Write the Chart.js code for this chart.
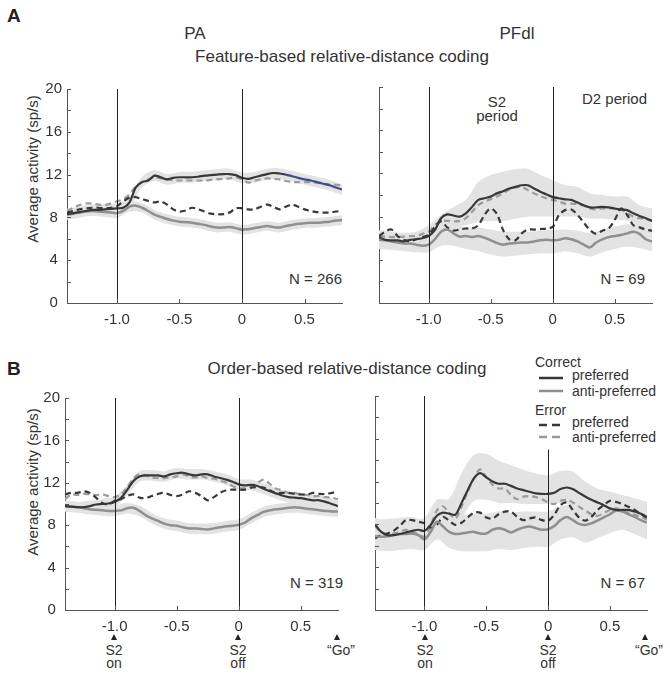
<!DOCTYPE html>
<html>
<head>
<meta charset="utf-8">
<script src="https://cdn.jsdelivr.net/npm/chart.js@4.4.1/dist/chart.umd.min.js"></script>
<style>
  body { margin: 0; background: #fff; width: 670px; height: 675px; position: relative; overflow: hidden;
         font-family: "Liberation Sans", Arial, sans-serif; color: #333; }
  .t { position: absolute; white-space: nowrap; line-height: 1; }
  .c { transform: translateX(-50%); text-align: center; }
  .r { transform: translateX(-100%); }
  .panel { position: absolute; }
  .tri { position: absolute; width: 0; height: 0; border-left: 3.5px solid transparent;
         border-right: 3.5px solid transparent; border-bottom: 6px solid #222; transform: translateX(-50%); }
  .ev { position: absolute; transform: translateX(-50%); text-align: center; font-size: 14px; line-height: 13px; }
</style>
</head>
<body>
<div class="t" style="left:7px;top:6px;font-size:19px;font-weight:bold;color:#222">A</div>
<div class="t" style="left:7px;top:359px;font-size:19px;font-weight:bold;color:#222">B</div>
<div class="t c" style="left:195px;top:25px;font-size:17px">PA</div>
<div class="t c" style="left:517px;top:25px;font-size:17px">PFdl</div>
<div class="t c" style="left:342px;top:48px;font-size:17px">Feature-based relative-distance coding</div>
<div class="t c" style="left:347px;top:360px;font-size:17px">Order-based relative-distance coding</div>
<div class="t" style="left:32px;top:169px;font-size:15px;transform:translate(-50%,-50%) rotate(-90deg)">Average activity (sp/s)</div>
<div class="t" style="left:32px;top:482px;font-size:15px;transform:translate(-50%,-50%) rotate(-90deg)">Average activity (sp/s)</div>
<div class="t r" style="left:342px;top:271px;font-size:15px">N = 266</div>
<div class="t r" style="left:645px;top:271px;font-size:15px">N = 69</div>
<div class="t r" style="left:343px;top:575px;font-size:15px">N = 319</div>
<div class="t r" style="left:645px;top:575px;font-size:15px">N = 67</div>
<div class="t c" style="left:497px;top:95px;font-size:15px;line-height:14px">S2<br>period</div>
<div class="t" style="left:582px;top:91px;font-size:15px">D2 period</div>

<div class="t" style="left:535px;top:355px;font-size:14px">Correct</div>
<div class="t" style="left:572px;top:368px;font-size:14px">preferred</div>
<div class="t" style="left:572px;top:384px;font-size:14px">anti-preferred</div>
<div class="t" style="left:535px;top:403px;font-size:14px">Error</div>
<div class="t" style="left:572px;top:415px;font-size:14px">preferred</div>
<div class="t" style="left:572px;top:430px;font-size:14px">anti-preferred</div>
<svg style="position:absolute;left:537px;top:370px" width="30" height="75">
  <line x1="2" y1="8" x2="26" y2="8" stroke="#383838" stroke-width="2.5"/>
  <line x1="2" y1="21" x2="26" y2="21" stroke="#8f8f8f" stroke-width="2.5"/>
  <line x1="2" y1="55" x2="26" y2="55" stroke="#383838" stroke-width="2.5" stroke-dasharray="8,5"/>
  <line x1="2" y1="67" x2="26" y2="67" stroke="#9a9a9a" stroke-width="2.5" stroke-dasharray="8,5"/>
</svg>

<div class="tri" style="left:114px;top:634px"></div>
<div class="ev" style="left:114px;top:644px">S2<br>on</div>
<div class="tri" style="left:238px;top:634px"></div>
<div class="ev" style="left:238px;top:644px">S2<br>off</div>
<div class="tri" style="left:337px;top:634px"></div>
<div class="ev" style="left:341px;top:644px">“Go”</div>
<div class="tri" style="left:425px;top:634px"></div>
<div class="ev" style="left:425px;top:644px">S2<br>on</div>
<div class="tri" style="left:548px;top:634px"></div>
<div class="ev" style="left:548px;top:644px">S2<br>off</div>
<div class="tri" style="left:645px;top:634px"></div>
<div class="ev" style="left:649px;top:644px">“Go”</div>

<script>
// time from S2 onset alignment (s)
const time = [-1.4,-1.35,-1.3,-1.25,-1.2,-1.15,-1.1,-1.05,-1.0,-0.95,-0.9,-0.85,-0.8,-0.75,-0.7,-0.65,-0.6,-0.55,-0.5,-0.45,-0.4,-0.35,-0.3,-0.25,-0.2,-0.15,-0.1,-0.05,0,0.05,0.1,0.15,0.2,0.25,0.3,0.35,0.4,0.45,0.5,0.55,0.6,0.65,0.7,0.75,0.8];
const bandTime = [-1.4,-1.3,-1.2,-1.1,-1.0,-0.9,-0.8,-0.7,-0.6,-0.5,-0.4,-0.3,-0.2,-0.1,0,0.1,0.2,0.3,0.4,0.5,0.6,0.7,0.8];
const xTicks = [-1.0, -0.5, 0, 0.5];

// A, PA
const paCorrPref = [8.3,8.4,8.5,8.6,8.7,8.7,8.75,8.8,8.85,8.9,9.4,10.8,11.3,11.45,11.9,11.75,11.55,11.7,11.75,11.75,11.75,11.8,11.9,11.95,12.0,12.05,12.05,11.95,11.7,11.6,11.75,11.9,12.05,12.15,12.1,12.0,11.85,11.7,11.55,11.45,11.3,11.15,11.0,10.8,10.6];
const paCorrAnti = [8.25,8.35,8.45,8.55,8.6,8.55,8.5,8.45,8.4,8.6,9.0,9.1,8.9,8.6,8.25,8.05,7.85,7.7,7.6,7.55,7.5,7.4,7.3,7.15,7.05,7.05,7.1,7.0,6.85,6.9,7.0,7.1,7.2,7.1,7.05,7.2,7.3,7.4,7.45,7.5,7.5,7.55,7.6,7.7,7.75];
const paErrPref = [8.45,8.6,8.75,8.85,8.9,8.9,8.85,8.9,9.05,9.5,9.85,9.9,9.7,9.55,9.4,9.5,9.2,8.75,8.55,8.65,8.9,8.75,8.55,8.35,8.3,8.3,8.45,8.85,8.85,8.75,8.75,9.0,9.2,9.0,8.75,9.0,9.2,9.0,8.75,8.6,8.5,8.45,8.45,8.55,8.6];
const paErrAnti = [8.6,8.9,9.15,9.3,9.3,9.2,9.15,9.3,9.5,9.7,10.15,10.9,11.3,11.55,11.75,11.65,11.55,11.5,11.45,11.45,11.45,11.45,11.45,11.5,11.55,11.6,11.65,11.75,11.55,11.25,11.45,11.55,11.65,11.6,11.55,11.4,11.3,11.3,11.3,11.3,11.25,11.15,11.1,11.05,11.0];
const paPrefHi = [8.8,9.0,9.2,9.25,9.35,9.9,11.8,12.4,12.05,12.25,12.25,12.4,12.5,12.55,12.2,12.25,12.55,12.6,12.35,12.05,11.8,11.5,11.1];
const paPrefLo = [7.8,8.0,8.2,8.25,8.35,8.9,10.8,11.4,11.05,11.25,11.25,11.4,11.5,11.55,11.2,11.25,11.55,11.6,11.35,11.05,10.8,10.5,10.1];
const paAntiHi = [8.7,8.9,9.05,8.95,8.85,9.45,9.35,8.7,8.3,8.05,7.95,7.75,7.5,7.55,7.3,7.45,7.65,7.5,7.75,7.9,7.95,8.05,8.2];
const paAntiLo = [7.8,8.0,8.15,8.05,7.95,8.55,8.45,7.8,7.4,7.15,7.05,6.85,6.6,6.65,6.4,6.55,6.75,6.6,6.85,7.0,7.05,7.15,7.3];

// A, PFdl
const pfCorrPref = [6.1,5.85,5.8,5.8,5.7,5.85,5.9,6.0,6.2,6.75,7.85,8.2,8.1,8.0,8.3,8.9,9.55,9.7,9.85,10.15,10.35,10.6,10.75,10.9,10.9,10.6,10.3,10.05,9.8,9.7,9.6,9.55,9.3,9.05,8.85,8.85,8.9,8.85,8.75,8.65,8.6,8.3,8.05,7.85,7.6];
const pfCorrAnti = [5.85,5.8,5.7,5.6,5.5,5.5,5.4,5.3,5.4,5.9,6.6,6.8,6.45,6.15,6.2,6.1,6.2,6.05,5.8,5.55,5.4,5.5,5.55,5.6,5.6,5.7,5.8,5.85,5.8,5.85,6.0,5.9,5.7,5.4,5.15,5.6,5.9,6.1,6.2,6.3,6.45,6.6,6.4,5.9,5.7];
const pfErrPref = [6.2,6.6,6.8,6.2,5.85,5.7,5.9,6.1,6.3,7.05,7.55,7.0,6.7,6.8,6.9,6.9,7.2,8.15,8.75,8.25,6.75,5.9,5.8,6.45,6.8,6.8,6.85,6.9,7.05,8.15,8.6,8.65,8.15,7.45,6.75,6.4,6.7,6.9,7.7,8.75,8.15,7.2,7.0,6.8,6.7];
const pfErrAnti = [6.2,6.15,6.1,6.1,6.15,6.2,6.2,6.4,6.6,7.2,7.6,7.6,7.55,7.6,7.85,8.45,9.05,9.4,9.6,9.85,10.15,10.5,10.7,10.75,10.45,10.15,9.9,9.7,9.55,9.4,9.2,9.2,9.15,9.0,8.75,8.65,8.75,8.75,8.75,8.65,8.3,8.0,7.85,7.75,7.6];
const pfPrefHi = [6.75,6.6,6.5,6.6,7.2,8.15,8.9,9.55,11.2,11.85,12.15,12.4,12.4,11.85,11.4,10.9,10.75,10.15,10.0,9.85,9.85,9.05,8.75];
const pfPrefLo = [5.6,5.3,5.2,5.3,5.6,6.9,7.0,7.2,7.5,7.6,7.6,7.8,8.0,8.0,8.0,8.0,8.0,7.8,7.8,7.7,7.6,7.2,6.8];
const pfAntiHi = [6.6,6.4,6.3,6.2,6.3,7.3,7.3,7.0,7.0,6.8,6.6,6.6,6.6,6.7,6.75,6.8,6.7,6.5,6.8,7.1,7.3,7.3,6.8];
const pfAntiLo = [5.0,4.9,4.8,4.7,4.7,5.3,5.3,5.0,4.8,4.5,4.3,4.4,4.5,4.6,4.6,4.8,4.6,4.3,4.7,5.0,5.2,5.1,4.8];

// B, PA
const pbCorrPref = [9.8,9.75,9.7,9.7,9.8,9.95,10.0,10.05,10.2,10.55,11.3,12.15,12.6,12.7,12.7,12.7,12.6,12.8,12.9,12.95,12.8,12.7,12.8,12.8,12.6,12.45,12.3,12.1,11.85,11.75,11.8,11.7,11.45,11.2,11.0,10.8,10.65,10.6,10.55,10.45,10.35,10.35,10.2,10.0,9.8];
const pbCorrAnti = [9.8,9.75,9.7,9.6,9.5,9.45,9.4,9.35,9.35,9.4,9.6,9.65,9.35,8.95,8.65,8.4,8.15,8.0,7.95,7.8,7.7,7.7,7.65,7.6,7.7,7.8,7.9,7.95,8.05,8.25,8.65,8.95,9.25,9.4,9.5,9.55,9.65,9.7,9.65,9.55,9.5,9.4,9.35,9.3,9.3];
const pbErrPref = [10.9,11.05,11.05,11.2,11.05,10.6,10.1,9.95,10.3,10.45,10.75,10.9,10.6,10.55,10.75,10.95,11.05,10.85,10.75,10.9,11.2,11.05,10.75,10.35,10.65,11.05,11.3,11.35,11.35,11.35,11.55,11.6,11.55,11.3,11.05,11.05,11.05,10.95,10.9,10.9,11.05,10.95,10.95,11.05,11.15];
const pbErrAnti = [10.45,10.9,10.85,10.95,10.9,10.85,10.9,10.75,10.65,10.9,11.55,12.4,12.8,12.7,12.5,12.45,12.45,12.5,12.6,12.8,12.6,12.5,12.6,12.45,12.4,12.2,12.0,11.7,11.5,11.5,11.7,12.0,12.3,11.9,11.45,11.3,11.05,11.05,10.9,10.85,10.75,10.75,10.65,10.6,10.45];
const pbPrefHi = [10.3,10.2,10.3,10.5,10.7,11.8,13.1,13.2,13.1,13.4,13.3,13.3,13.1,12.8,12.35,12.3,11.95,11.5,11.15,11.05,10.85,10.7,10.3];
const pbPrefLo = [9.3,9.2,9.3,9.5,9.7,10.8,12.1,12.2,12.1,12.4,12.3,12.3,12.1,11.8,11.35,11.3,10.95,10.5,10.15,10.05,9.85,9.7,9.3];
const pbAntiHi = [10.3,10.2,10.0,9.9,9.85,10.1,9.85,9.15,8.65,8.45,8.2,8.15,8.2,8.4,8.55,9.15,9.75,10.0,10.15,10.15,10.0,9.85,9.8];
const pbAntiLo = [9.3,9.2,9.0,8.9,8.85,9.1,8.85,8.15,7.65,7.45,7.2,7.15,7.2,7.4,7.55,8.15,8.75,9.0,9.15,9.15,9.0,8.85,8.8];

// B, PFdl
const qbCorrPref = [8.0,7.3,7.0,7.0,7.1,7.25,7.4,7.5,7.4,7.95,8.8,9.1,9.0,8.9,10.0,11.2,12.3,12.8,12.4,12.0,11.8,11.8,11.6,11.35,11.2,11.05,10.9,10.85,10.85,10.95,11.3,11.45,11.3,10.95,10.6,10.3,10.05,9.8,9.5,9.35,9.35,9.35,9.2,9.0,8.7];
const qbCorrAnti = [6.9,6.85,6.9,7.0,7.1,7.1,7.15,7.0,6.6,7.3,8.25,7.8,7.3,7.1,7.15,7.25,7.3,7.15,7.15,7.5,7.65,7.5,7.25,7.5,7.7,7.8,7.65,7.5,7.55,7.85,8.4,8.7,8.4,8.05,7.95,8.1,8.35,8.65,8.95,9.3,9.2,8.95,8.7,8.4,8.15];
const qbErrPref = [6.7,7.0,7.15,7.4,7.85,8.4,8.4,8.25,8.1,7.7,7.95,8.7,8.35,7.95,8.15,8.65,9.1,9.1,8.65,8.55,8.95,9.2,9.2,8.7,8.4,8.55,8.65,8.4,8.35,8.9,9.8,10.05,9.35,8.65,8.35,8.7,9.35,9.8,10.2,10.1,9.9,9.65,9.35,8.95,8.65];
const qbErrAnti = [7.85,7.3,7.1,7.15,7.3,7.5,7.3,7.1,6.85,7.85,9.3,9.7,9.05,8.55,9.65,11.05,12.3,13.15,12.4,11.7,11.35,11.35,10.75,10.35,10.6,10.65,10.55,10.35,10.05,9.9,10.2,10.3,10.05,9.65,9.3,8.95,8.8,9.05,9.35,9.5,9.3,9.1,8.9,8.7,8.45];
const qbPrefHi = [8.6,8.3,8.3,8.5,8.6,10.3,10.4,12.75,14.5,14.6,13.95,13.55,13.1,12.75,12.6,13.0,12.95,12.0,11.35,11.05,10.75,10.45,10.1];
const qbPrefLo = [6.6,6.2,6.3,6.5,6.6,7.4,7.6,8.6,10.2,10.3,10.0,10.0,9.9,9.9,9.9,10.0,9.8,9.3,8.8,8.2,8.0,7.9,7.5];
const qbAntiHi = [8.4,8.5,8.6,8.7,8.4,9.6,9.0,8.9,9.0,9.0,9.2,9.1,9.2,9.2,9.2,9.7,9.8,9.6,9.8,10.3,10.4,10.0,9.6];
const qbAntiLo = [5.6,5.5,5.6,5.7,5.6,6.6,5.8,5.5,5.5,5.5,5.7,5.6,5.8,5.9,5.9,6.6,6.8,6.3,6.7,7.2,7.5,7.1,6.6];

const FONT = '"Liberation Sans", Arial, sans-serif';
const DARK = '#383838', GRAY = '#8f8f8f', LIGHT = '#9c9c9c', BAND = '#e3e3e3', AXIS = '#555';

function pts(xs, ys) { return xs.map((x, i) => ({ x, y: ys[i] })); }

const inwardTicks = {
  id: 'inwardTicks',
  afterDraw(chart) {
    const { ctx, chartArea: a, scales: { x, y } } = chart;
    ctx.save();
    ctx.strokeStyle = AXIS; ctx.lineWidth = 1;
    ctx.beginPath();
    y.ticks.forEach(t => { const py = Math.round(y.getPixelForValue(t.value)) + 0.5; ctx.moveTo(a.left, py); ctx.lineTo(a.left + 4, py); });
    x.ticks.forEach(t => { const px = Math.round(x.getPixelForValue(t.value)) + 0.5; ctx.moveTo(px, a.bottom); ctx.lineTo(px, a.bottom - 4); });
    ctx.stroke();
    ctx.restore();
  }
};

const eventLines = {
  id: 'eventLines',
  afterDatasetsDraw(chart, args, opts) {
    const { ctx, chartArea: a, scales: { x, y } } = chart;
    ctx.save();
    ctx.strokeStyle = '#222'; ctx.lineWidth = 1;
    (opts.lines || []).forEach(ev => {
      const px = Math.round(x.getPixelForValue(ev.t)) + 0.5;
      ctx.beginPath(); ctx.moveTo(px, y.getPixelForValue(ev.top)); ctx.lineTo(px, a.bottom); ctx.stroke();
    });
    ctx.restore();
  }
};

function band(vals, fill) {
  return { data: pts(bandTime, vals), borderWidth: 0, pointRadius: 0, tension: 0.3,
           fill, backgroundColor: BAND, borderColor: BAND, order: 5 };
}
function line(vals, color, dash, width, order, segment) {
  const d = { data: pts(time, vals), borderColor: color, borderWidth: width, borderDash: dash,
              pointRadius: 0, tension: 0.3, fill: false, order };
  if (segment) d.segment = segment;
  return d;
}

function makePanel(area, showY, s, lines, segment) {
  const padT = 12, padR = 20, padB = 2, padL = 2;
  const yW = showY ? 50 : 0, xH = 32;
  const wrap = document.createElement('div');
  wrap.className = 'panel';
  wrap.style.left = (area.x - padL - yW) + 'px';
  wrap.style.top = (area.y - padT) + 'px';
  wrap.style.width = (padL + yW + area.w + padR) + 'px';
  wrap.style.height = (padT + area.h + xH + padB) + 'px';
  const canvas = document.createElement('canvas');
  wrap.appendChild(canvas);
  document.body.appendChild(wrap);

  return new Chart(canvas, {
    type: 'line',
    data: {
      datasets: [
        band(s.prefHi, '+1'), band(s.prefLo, false), band(s.antiHi, '+1'), band(s.antiLo, false),
        line(s.corrPref, DARK, [], 2.2, 0, segment),
        line(s.corrAnti, GRAY, [], 2.5, 0),
        line(s.errPref, DARK, [6, 4], 2.2, 1),
        line(s.errAnti, LIGHT, [6, 4], 2.2, 1)
      ]
    },
    options: {
      responsive: true, maintainAspectRatio: false, animation: false,
      layout: { padding: { top: padT, right: padR, bottom: padB, left: padL } },
      plugins: { legend: { display: false }, tooltip: { enabled: false }, eventLines: { lines } },
      scales: {
        x: {
          type: 'linear', min: -1.4, max: 0.8,
          afterFit(sc) { sc.height = xH; },
          afterBuildTicks(sc) { sc.ticks = xTicks.map(v => ({ value: v })); },
          ticks: { color: '#333', padding: 8, maxRotation: 0, autoSkip: false,
                   font: { family: FONT, size: 15 },
                   callback: v => v === 0 ? '0' : v.toFixed(1) },
          grid: { display: false, drawTicks: false },
          border: { display: true, color: AXIS, width: 1 }
        },
        y: {
          min: 0, max: 20,
          afterFit(sc) { sc.width = yW; },
          ticks: { display: showY, stepSize: 2, color: '#333', padding: 5, crossAlign: 'center',
                   font: { family: FONT, size: 15 },
                   callback: v => v % 4 === 0 ? String(v) : '' },
          grid: { display: false, drawTicks: false },
          border: { display: true, color: AXIS, width: 1 }
        }
      }
    },
    plugins: [inwardTicks, eventLines]
  });
}

makePanel({ x: 67, y: 87, w: 275, h: 216 }, true,
  { corrPref: paCorrPref, corrAnti: paCorrAnti, errPref: paErrPref, errAnti: paErrAnti,
    prefHi: paPrefHi, prefLo: paPrefLo, antiHi: paAntiHi, antiLo: paAntiLo },
  [{ t: -1, top: 20 }, { t: 0, top: 20 }],
  { borderColor: c => c.p0.parsed.x >= 0.35 ? '#3f4c8c' : undefined });

makePanel({ x: 379, y: 87, w: 273, h: 216 }, false,
  { corrPref: pfCorrPref, corrAnti: pfCorrAnti, errPref: pfErrPref, errAnti: pfErrAnti,
    prefHi: pfPrefHi, prefLo: pfPrefLo, antiHi: pfAntiHi, antiLo: pfAntiLo },
  [{ t: -1, top: 20 }, { t: 0, top: 20 }]);

makePanel({ x: 65, y: 396, w: 273, h: 214 }, true,
  { corrPref: pbCorrPref, corrAnti: pbCorrAnti, errPref: pbErrPref, errAnti: pbErrAnti,
    prefHi: pbPrefHi, prefLo: pbPrefLo, antiHi: pbAntiHi, antiLo: pbAntiLo },
  [{ t: -1, top: 20 }, { t: 0, top: 20 }]);

makePanel({ x: 375, y: 396, w: 272, h: 214 }, false,
  { corrPref: qbCorrPref, corrAnti: qbCorrAnti, errPref: qbErrPref, errAnti: qbErrAnti,
    prefHi: qbPrefHi, prefLo: qbPrefLo, antiHi: qbAntiHi, antiLo: qbAntiLo },
  [{ t: -1, top: 20 }, { t: 0, top: 15 }]);
</script>
</body>
</html>
